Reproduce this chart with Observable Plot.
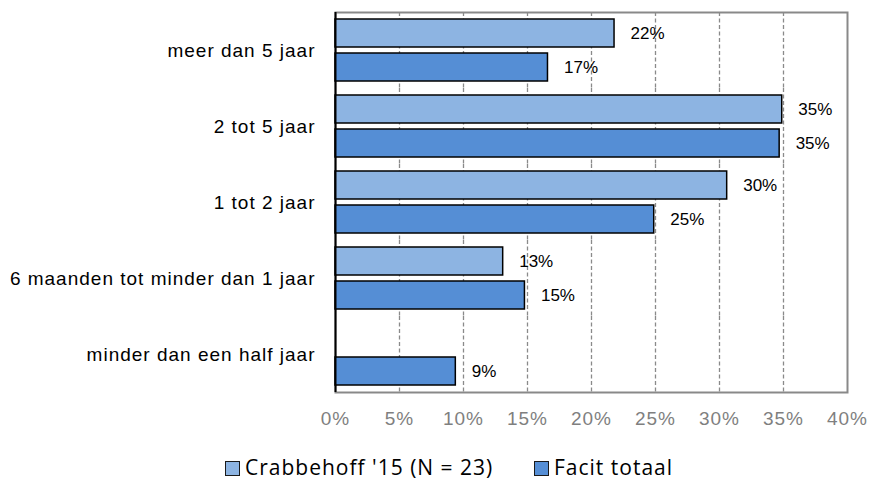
<!DOCTYPE html>
<html>
<head>
<meta charset="utf-8">
<script src="https://cdn.jsdelivr.net/npm/d3@7"></script>
<script src="https://cdn.jsdelivr.net/npm/@observablehq/plot@0.6"></script>
<style>
  html, body { margin: 0; padding: 0; background: #fff; }
  #wrap { position: relative; width: 871px; height: 483px; overflow: hidden; }
  #chart svg { display: block; }
  #chart svg [aria-label="fy-axis tick label"] { font-size: 19px; letter-spacing: 1px; }
  #chart svg [aria-label="x-axis tick label"] { font-size: 19px; letter-spacing: 1px; }
  .legend-item { position: absolute; top: 456px; height: 22px; line-height: 22px; display: flex; align-items: center;
    font-family: "Open Sans", sans-serif; font-size: 21px; letter-spacing: 1px; color: #000; white-space: nowrap; }
  .swatch { width: 13px; height: 13px; border: 1px solid #1a1a1a; margin-right: 5px; margin-top: 2px; }
</style>
</head>
<body>
<div id="wrap">
  <div id="chart"></div>
  <div id="legend"></div>
</div>
<script>
const categories = [
  "meer dan 5 jaar",
  "2 tot 5 jaar",
  "1 tot 2 jaar",
  "6 maanden tot minder dan 1 jaar",
  "minder dan een half jaar"
];
const series = ["Crabbehoff '15 (N = 23)", "Facit totaal"];
const crabbehoff = [21.8, 34.9, 30.6, 13.1, null];
const crabbehoffLabels = ["22%", "35%", "30%", "13%", null];
const facit = [16.6, 34.7, 24.9, 14.8, 9.4];
const facitLabels = ["17%", "35%", "25%", "15%", "9%"];
const colors = ["#8DB4E2", "#558ED5"];
const xTicks = [0, 5, 10, 15, 20, 25, 30, 35, 40];

const rows = [];
categories.forEach((c, i) => {
  if (crabbehoff[i] != null) rows.push({category: c, series: series[0], value: crabbehoff[i], label: crabbehoffLabels[i]});
  if (facit[i] != null) rows.push({category: c, series: series[1], value: facit[i], label: facitLabels[i]});
});

const chart = Plot.plot({
  width: 871,
  height: 440,
  marginLeft: 335,
  marginRight: 24,
  marginTop: 11,
  marginBottom: 47,
  style: {fontFamily: "'Liberation Sans', Arial, sans-serif", background: "white", color: "black"},
  x: {domain: [0, 40], ticks: xTicks, tickFormat: d => d + "%", tickSize: 0, tickPadding: 19, label: null},
  y: {domain: series, axis: null, paddingInner: 0.174, paddingOuter: 0.19},
  fy: {domain: categories, padding: 0, label: null, tickSize: 0, tickPadding: 20, axis: "left"},
  color: {domain: series, range: colors},
  marks: [
    Plot.ruleX(xTicks.filter(d => d > 0 && d < 40), {stroke: "#8a8a8a", strokeWidth: 1.3, strokeDasharray: "4,2.5"}),
    Plot.frame({stroke: "#898989", strokeWidth: 2, facet: "super"}),
    Plot.barX(rows, {x: "value", y: "series", fy: "category", fill: "series", stroke: "black", strokeWidth: 1.5}),
    Plot.ruleX([0], {stroke: "black", strokeWidth: 2}),
    Plot.text(rows, {x: "value", y: "series", fy: "category", text: "label",
      textAnchor: "start", dx: 16, fontSize: 17, fill: "black"})
  ]
});
// gray x tick labels
chart.querySelectorAll('[aria-label="x-axis tick label"]').forEach(g => g.setAttribute("fill", "#7f7f7f"));
document.getElementById("chart").appendChild(chart);

const legend = document.getElementById("legend");
const legendLeft = [225, 534];
series.forEach((s, i) => {
  const item = document.createElement("div");
  item.className = "legend-item";
  item.style.left = legendLeft[i] + "px";
  const sw = document.createElement("div");
  sw.className = "swatch";
  sw.style.background = colors[i];
  const label = document.createElement("span");
  label.textContent = s;
  item.appendChild(sw);
  item.appendChild(label);
  legend.appendChild(item);
});
</script>
</body>
</html>
